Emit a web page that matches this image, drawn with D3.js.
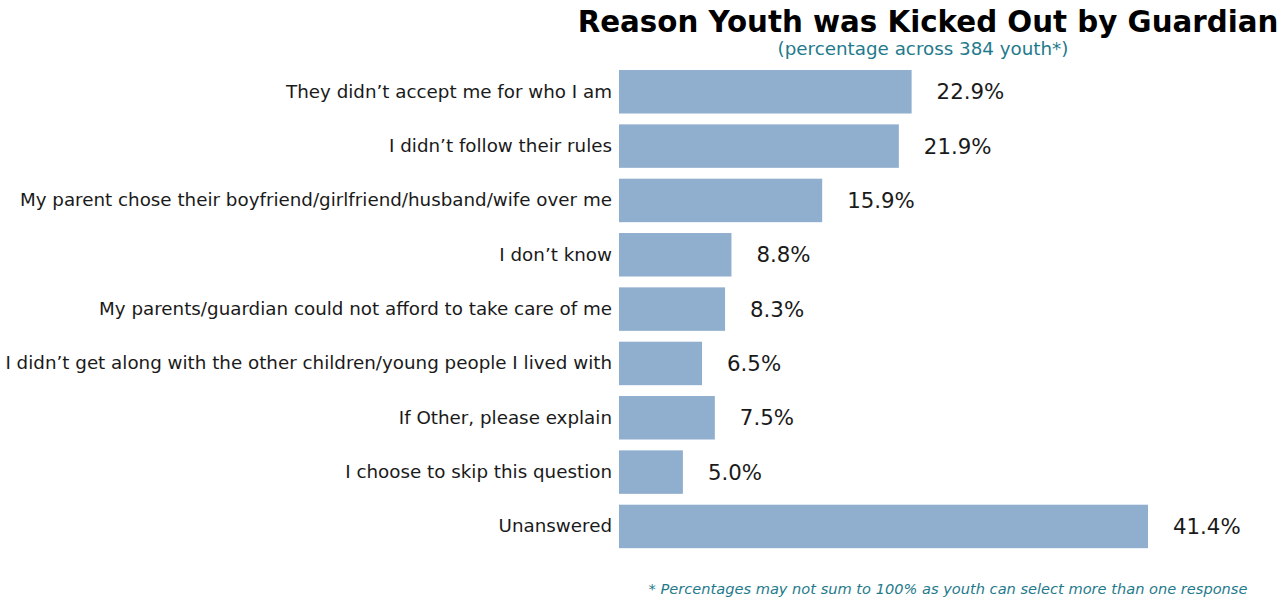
<!DOCTYPE html>
<html>
<head>
<meta charset="utf-8">
<script src="https://cdn.jsdelivr.net/npm/d3@7"></script>
<style>
  html, body { margin: 0; padding: 0; background: #fff; }
  svg { display: block; }
  text { font-family: "DejaVu Sans", sans-serif; }
</style>
</head>
<body>
<svg id="chart" width="1280" height="597"></svg>
<script>
// Reasons, in display order (top to bottom)
const categories = [
  "They didn\u2019t accept me for who I am",
  "I didn\u2019t follow their rules",
  "My parent chose their boyfriend/girlfriend/husband/wife over me",
  "I don\u2019t know",
  "My parents/guardian could not afford to take care of me",
  "I didn\u2019t get along with the other children/young people I lived with",
  "If Other, please explain",
  "I choose to skip this question",
  "Unanswered"
];
// Share of youth (%) giving each reason
const percentages = [22.9, 21.9, 15.9, 8.8, 8.3, 6.5, 7.5, 5.0, 41.4];

const titleText = "Reason Youth was Kicked Out by Guardian";
const subtitleText = "(percentage across 384 youth*)";
const footnoteText = "* Percentages may not sum to 100% as youth can select more than one response";

const svg = d3.select("#chart");
const rows = categories.map((c, i) => ({ category: c, value: percentages[i] }));

const x0 = 619;
const x = d3.scaleLinear().domain([0, 41.4]).range([x0, 1148]);
const y = d3.scaleBand()
  .domain(categories)
  .range([64.6, 553.6])
  .paddingInner(0.2)
  .paddingOuter(0.1);

// Bars
svg.append("g").selectAll("rect")
  .data(rows)
  .join("rect")
  .attr("x", x(0))
  .attr("y", d => y(d.category))
  .attr("width", d => x(d.value) - x(0))
  .attr("height", y.bandwidth())
  .attr("fill", "#90aecd");

// Category labels (left axis, no line or ticks)
const yAxis = d3.axisLeft(y).tickSize(0).tickPadding(7);
const ag = svg.append("g").attr("transform", `translate(${x0},0)`).call(yAxis);
ag.select(".domain").remove();
ag.selectAll("text")
  .style("font-family", "'DejaVu Sans', sans-serif")
  .style("font-size", "18.3px")
  .attr("fill", "#1a1a1a");

// Value labels
svg.append("g").selectAll("text")
  .data(rows)
  .join("text")
  .attr("x", d => x(d.value) + 25)
  .attr("y", d => y(d.category) + y.bandwidth() / 2)
  .attr("dy", "0.35em")
  .attr("font-size", "21.3px")
  .attr("fill", "#1a1a1a")
  .text(d => d.value.toFixed(1) + "%");

// Title block
svg.append("text")
  .attr("x", 928).attr("y", 32)
  .attr("text-anchor", "middle")
  .attr("font-size", "29.3px")
  .attr("font-weight", "bold")
  .attr("fill", "#000")
  .text(titleText);

svg.append("text")
  .attr("x", 923).attr("y", 55)
  .attr("text-anchor", "middle")
  .attr("font-size", "18.3px")
  .attr("fill", "#1f7a8c")
  .text(subtitleText);

svg.append("text")
  .attr("x", 948).attr("y", 594)
  .attr("text-anchor", "middle")
  .attr("font-size", "14.6px")
  .attr("font-style", "italic")
  .attr("fill", "#1f7a8c")
  .text(footnoteText);
</script>
</body>
</html>
